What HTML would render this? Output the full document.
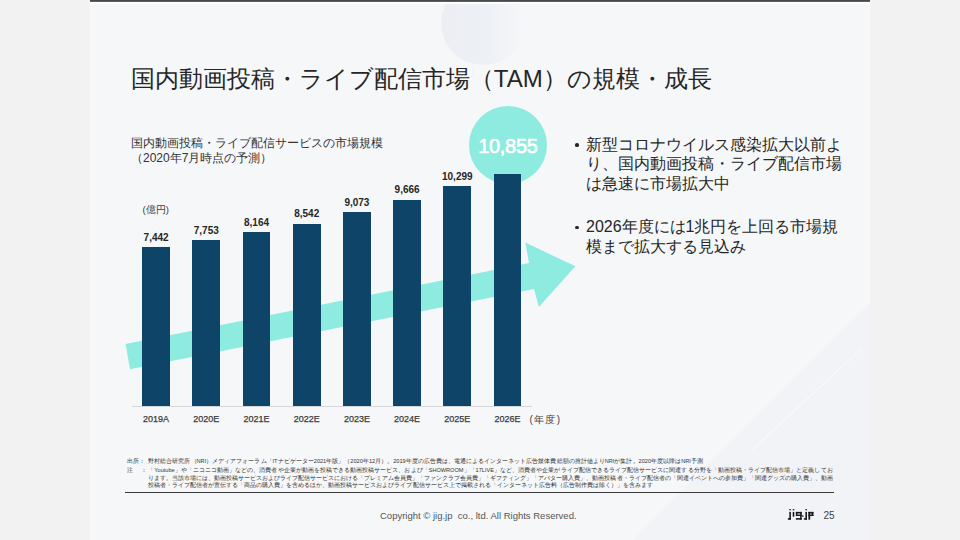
<!DOCTYPE html>
<html lang="ja">
<head>
<meta charset="utf-8">
<style>
*{margin:0;padding:0;box-sizing:border-box}
html,body{width:960px;height:540px;overflow:hidden;background:#f2f2f2;font-family:"Liberation Sans",sans-serif;color:#262626}
#slide{position:absolute;left:90px;top:0;width:780px;height:540px;background:#f5f7f9;overflow:hidden}
.abs{position:absolute;white-space:nowrap}
#topbar{position:absolute;left:90px;top:0;width:780px;height:2px;background:linear-gradient(#46484c 0,#46484c 1.2px,#8a8b8f 2px)}
#topw{position:absolute;left:90px;top:2px;width:780px;height:1.5px;background:#fdfdfe}
#title{left:130.8px;top:64px;font-size:24px;line-height:30px;color:#262626}
#sub{left:131px;top:136px;font-size:12px;line-height:14.6px;color:#333}
#unit{left:142.5px;top:205px;font-size:9.5px;line-height:10px;color:#404040}
.bar{position:absolute;width:27.8px;background:#0d4468}
.val{position:absolute;width:60px;text-align:center;font-size:10px;font-weight:bold;line-height:10px;color:#262626}
.cat{position:absolute;width:60px;text-align:center;font-size:9px;line-height:10px;color:#3c3c3c;top:414px;-webkit-text-stroke:0.25px #3c3c3c}
#axis{position:absolute;left:132px;top:406px;width:400px;height:1px;background:#d4d6da}
#nendo{left:529.5px;top:415px;font-size:10px;line-height:10px;letter-spacing:1.3px;color:#404040}
#circle{position:absolute;left:468.7px;top:105.6px;width:78.4px;height:78.4px;border-radius:50%;background:#8eebe0}
#big{left:468.7px;top:134.5px;width:78.4px;text-align:center;font-size:20px;font-weight:normal;-webkit-text-stroke:0.6px #fff;letter-spacing:-0.3px;line-height:22px;color:#fff}
#bul{left:572px;top:134.5px;font-size:16px;line-height:19.6px;color:#262626}
#bul p{position:relative;padding-left:14px}
#bul p::before{content:"";position:absolute;left:3.1px;top:8.6px;width:3.7px;height:3.7px;border-radius:50%;background:#262626}
.nl{position:absolute;white-space:nowrap;font-size:5.6px;line-height:7px;color:#333}
.nj{text-align:justify;text-align-last:justify;overflow:visible}
#sep{position:absolute;left:125px;top:491.6px;width:709px;height:1.2px;background:#3a3a3a}
#copy{left:380px;top:510px;font-size:9.5px;line-height:11px;color:#555}
#pg{left:823.5px;top:511.2px;font-size:10px;line-height:10px;color:#404040}
</style>
</head>
<body>
<div id="slide">
<div style="position:absolute;left:351px;top:-19px;width:84px;height:84px;border-radius:50%;background:linear-gradient(90deg,#eceef4 0%,#edf0f5 55%,rgba(245,247,249,0.3) 100%)"></div>
<svg style="position:absolute;left:0;top:0" width="780" height="540" viewBox="90 0 780 540">
<polygon points="632.8,540 870,302.8 870,540" fill="#eef1f5" opacity="0.55"/>
<line x1="752" y1="450" x2="862" y2="348" stroke="#fafbfc" stroke-width="1"/>
</svg>
</div>
<div id="topbar"></div><div id="topw"></div>

<svg style="position:absolute;left:0;top:0" width="960" height="540" viewBox="0 0 960 540">
  <polygon fill="#8eebe0" points="125.6,344.1 529,263 525.4,242.6 575.4,266.3 538.9,307 534,288.9 130,369.3"/>
</svg>

<div id="circle"></div>
<div class="abs" id="big">10,855</div>

<div class="abs" id="title">国内動画投稿・ライブ配信市場（TAM）の規模・成長</div>
<div class="abs" id="sub">国内動画投稿・ライブ配信サービスの市場規模<br>（2020年7月時点の予測）</div>
<div class="abs" id="unit">(億円)</div>

<div id="bars">
<div class="bar" style="left:142.2px;top:247.1px;height:158.9px"></div>
<div class="val" style="left:126.1px;top:232.9px">7,442</div>
<div class="cat" style="left:126.1px">2019A</div>
<div class="bar" style="left:192.4px;top:240.4px;height:165.6px"></div>
<div class="val" style="left:176.3px;top:226.2px">7,753</div>
<div class="cat" style="left:176.3px">2020E</div>
<div class="bar" style="left:242.6px;top:231.7px;height:174.3px"></div>
<div class="val" style="left:226.5px;top:217.5px">8,164</div>
<div class="cat" style="left:226.5px">2021E</div>
<div class="bar" style="left:292.8px;top:223.6px;height:182.4px"></div>
<div class="val" style="left:276.7px;top:209.4px">8,542</div>
<div class="cat" style="left:276.7px">2022E</div>
<div class="bar" style="left:343.0px;top:212.3px;height:193.7px"></div>
<div class="val" style="left:326.9px;top:198.1px">9,073</div>
<div class="cat" style="left:326.9px">2023E</div>
<div class="bar" style="left:393.2px;top:199.6px;height:206.4px"></div>
<div class="val" style="left:377.1px;top:185.4px">9,666</div>
<div class="cat" style="left:377.1px">2024E</div>
<div class="bar" style="left:443.4px;top:186.1px;height:219.9px"></div>
<div class="val" style="left:427.3px;top:171.9px">10,299</div>
<div class="cat" style="left:427.3px">2025E</div>
<div class="bar" style="left:493.6px;top:174.2px;height:231.8px"></div>
<div class="cat" style="left:477.5px">2026E</div>
</div>
<div id="axis"></div>
<div class="abs" id="nendo">(年度)</div>

<div class="abs" id="bul">
<p>新型コロナウイルス感染拡大以前よ<br>り、国内動画投稿・ライブ配信市場<br>は急速に市場拡大中</p>
<p style="margin-top:23.8px">2026年度には1兆円を上回る市場規<br>模まで拡大する見込み</p>
</div>

<div class="nl" style="left:127px;top:458px">出所：</div>
<div class="nl" style="left:127px;top:467.4px">注</div>
<div class="nl" style="left:140.8px;top:467.4px">：</div>
<div class="nl nj" style="left:148.3px;top:458px;width:554.6px">野村総合研究所（NRI）メディアフォーラム「ITナビゲーター2021年版」（2020年12月）。2019年度の広告費は、電通によるインターネット広告媒体費総額の推計値よりNRIが集計。2020年度以降はNRI予測</div>
<div class="nl nj" style="left:148.3px;top:467.4px;width:684.3px">「Youtube」や「ニコニコ動画」などの、消費者や企業が動画を投稿できる動画投稿サービス、および「SHOWROOM」「17LIVE」など、消費者や企業がライブ配信できるライブ配信サービスに関連する分野を「動画投稿・ライブ配信市場」と定義してお</div>
<div class="nl nj" style="left:148.3px;top:474.5px;width:684.3px">ります。当該市場には、動画投稿サービスおよびライブ配信サービスにおける「プレミアム会員費」「ファンクラブ会員費」「ギフティング」「アバター購入費」、動画投稿者・ライブ配信者の「関連イベントへの参加費」「関連グッズの購入費」、動画</div>
<div class="nl nj" style="left:148.3px;top:481.6px;width:504.4px">投稿者・ライブ配信者が宣伝する「商品の購入費」を含めるほか、動画投稿サービスおよびライブ配信サービス上で掲載される「インターネット広告料（広告制作費は除く）」を含みます</div>
<div id="sep"></div>
<div class="abs" id="copy">Copyright © jig.jp&nbsp; co., ltd. All Rights Reserved.</div>
<svg style="position:absolute;left:784px;top:505px" width="34" height="18" viewBox="0 0 34 18">
<g fill="#1a1a1a">
<rect x="5.3" y="4.1" width="1.6" height="1.2"/><rect x="5.3" y="6.9" width="1.6" height="7.8"/><rect x="3.9" y="13.1" width="3" height="1.6"/>
<rect x="8.7" y="4.1" width="1.6" height="1.2"/><rect x="8.7" y="6.9" width="1.6" height="4.8"/>
<rect x="11.9" y="6.9" width="5.8" height="1.6"/><rect x="11.9" y="6.9" width="1.6" height="4.1"/><rect x="11.9" y="9.6" width="5.8" height="1.4"/><rect x="16.1" y="6.9" width="1.6" height="7.8"/><rect x="11.9" y="13.1" width="5.8" height="1.6"/>
<rect x="17.9" y="10.4" width="1.6" height="1.3"/>
<rect x="21.4" y="4.1" width="1.6" height="1.2"/><rect x="21.4" y="6.9" width="1.6" height="7.8"/><rect x="19.9" y="13.1" width="3.1" height="1.6"/>
<rect x="24.4" y="6.9" width="5" height="1.6"/><rect x="24.4" y="6.9" width="1.8" height="7.8"/><rect x="27.6" y="6.9" width="1.8" height="4.1"/><rect x="24.4" y="9.6" width="5" height="1.4"/>
</g></svg>
<div class="abs" id="pg">25</div>
</body>
</html>
